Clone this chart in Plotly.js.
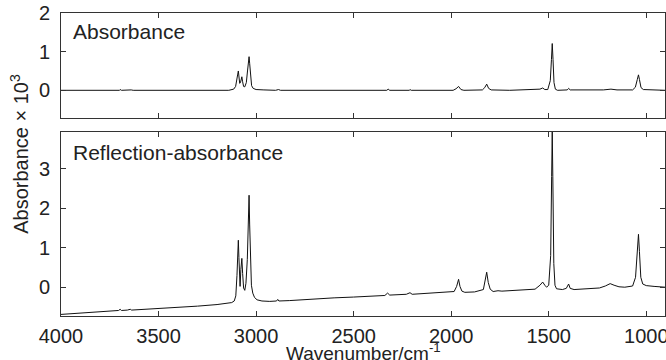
<!DOCTYPE html>
<html>
<head>
<meta charset="utf-8">
<script src="https://cdn.plot.ly/plotly-3.0.1.min.js"></script>
<style>html,body{margin:0;padding:0;background:#fff;}#chart{width:666px;height:360px;}</style>
</head>
<body>
<div id="chart"></div>
<script>
// Tick labels
const xTicks = [4000, 3500, 3000, 2500, 2000, 1500, 1000];
const yTicksTop = [0, 1, 2];
const yTicksBottom = [0, 1, 2, 3];

// Top panel: Absorbance (×10^3)
const wnTop = [4000,3700,3697,3690,3640,3630,3140,3115,3105,3098,3094,3091,3088,3084,3080,3076,3073,3069,3064,3058,3050,3044,3039,3036,3033,3029,3023,3015,3000,2960,2900,2885,2875,2330,2323,2315,2215,2211,2205,1990,1975,1962,1950,1935,1840,1828,1818,1808,1795,1700,1545,1531,1520,1505,1492,1486,1482,1478,1473,1466,1455,1405,1398,1390,1300,1220,1181,1150,1070,1056,1046,1040,1035,1027,1015,960,904];
const absTop = [0,0,0.02,0,0.01,0,0,0.03,0.10,0.25,0.42,0.50,0.35,0.18,0.20,0.32,0.35,0.22,0.10,0.09,0.20,0.50,0.80,0.87,0.70,0.35,0.12,0.05,0.02,0.01,0.00,0.02,0.00,0.00,0.03,0.00,0.00,0.02,0.00,0.00,0.04,0.10,0.02,0.00,0.01,0.07,0.16,0.05,0.01,0.00,0.03,0.06,0.02,0.02,0.25,0.80,1.21,0.80,0.20,0.03,0.00,0.01,0.05,0.01,0.00,0.01,0.03,0.01,0.01,0.08,0.28,0.40,0.28,0.07,0.02,0.01,0.00];

// Bottom panel: Reflection-absorbance (×10^3)
const wnBot = [4000,3900,3800,3720,3705,3697,3690,3660,3645,3638,3600,3500,3400,3300,3200,3150,3125,3112,3104,3098,3094,3091,3088,3085,3082,3078,3073,3069,3064,3058,3052,3045,3040,3036,3033,3029,3024,3017,3008,2995,2970,2930,2895,2889,2883,2830,2800,2700,2650,2645,2640,2600,2500,2400,2340,2326,2315,2230,2211,2200,2100,2020,1985,1972,1962,1955,1945,1930,1880,1835,1826,1818,1810,1800,1785,1760,1740,1700,1650,1631,1610,1570,1545,1531,1520,1511,1500,1490,1485,1482,1479,1474,1468,1460,1430,1410,1398,1390,1370,1320,1280,1240,1210,1185,1165,1140,1110,1070,1055,1046,1040,1035,1028,1018,1000,960,930,904];
const raBot = [-0.69,-0.66,-0.63,-0.60,-0.59,-0.56,-0.59,-0.58,-0.56,-0.58,-0.57,-0.55,-0.52,-0.48,-0.44,-0.41,-0.39,-0.35,-0.22,0.30,0.90,1.19,0.75,0.15,0.02,0.45,0.73,0.35,-0.02,-0.08,0.10,0.70,1.70,2.33,1.60,0.55,0.05,-0.15,-0.26,-0.32,-0.35,-0.36,-0.35,-0.31,-0.35,-0.34,-0.33,-0.30,-0.29,-0.28,-0.29,-0.27,-0.25,-0.23,-0.21,-0.15,-0.20,-0.18,-0.14,-0.18,-0.15,-0.13,-0.11,0.02,0.20,0.02,-0.10,-0.13,-0.12,-0.06,0.15,0.38,0.12,-0.05,-0.11,-0.09,-0.10,-0.09,-0.08,-0.06,-0.07,-0.05,0.05,0.13,0.05,0.00,0.05,0.80,2.80,3.95,2.80,0.60,0.05,-0.04,-0.06,-0.03,0.08,-0.03,-0.06,-0.05,-0.04,-0.02,0.03,0.09,0.05,0.01,0.00,0.03,0.25,0.90,1.34,0.90,0.25,0.08,0.04,0.02,0.01,0.00];

const lineStyle = {color: '#111111', width: 1};
const traces = [
  {x: wnTop, y: absTop, xaxis: 'x2', yaxis: 'y2', mode: 'lines', line: lineStyle, hoverinfo: 'skip'},
  {x: wnBot, y: raBot, xaxis: 'x', yaxis: 'y', mode: 'lines', line: lineStyle, hoverinfo: 'skip'}
];

const fontFam = 'Liberation Sans, Arial, Helvetica, sans-serif';
const axCommon = {
  showline: true, linecolor: '#333', linewidth: 1, mirror: 'ticks',
  ticks: 'inside', ticklen: 5, tickwidth: 1, tickcolor: '#333',
  showgrid: false, zeroline: false, ticklabeloverflow: 'allow',
  tickfont: {family: fontFam, size: 20, color: '#222'}
};

const layout = {
  width: 666, height: 360,
  margin: {l: 61, r: 1, t: 13, b: 44},
  paper_bgcolor: '#fff', plot_bgcolor: '#fff',
  showlegend: false,
  font: {family: fontFam, color: '#222'},
  xaxis: Object.assign({}, axCommon, {
    anchor: 'y', domain: [0, 1], range: [4000, 904], tickvals: xTicks, ticklabelstandoff: 2
  }),
  xaxis2: Object.assign({}, axCommon, {
    anchor: 'y2', domain: [0, 1], range: [4000, 904], tickvals: xTicks, showticklabels: false, matches: 'x'
  }),
  yaxis: Object.assign({}, axCommon, {
    anchor: 'x', domain: [0, 0.607], range: [-0.73, 3.93], tickvals: yTicksBottom, ticklabelstandoff: 6
  }),
  yaxis2: Object.assign({}, axCommon, {
    anchor: 'x2', domain: [0.653, 1], range: [-0.72, 2.0], tickvals: yTicksTop, ticklabelstandoff: 6
  }),
  annotations: [
    {text: 'Wavenumber/cm<sup>-1</sup>', xref: 'paper', yref: 'paper',
     x: 0.5, y: -0.118, xanchor: 'center', yanchor: 'middle', showarrow: false,
     font: {family: fontFam, size: 19, color: '#222'}},
    {text: 'Absorbance × 10<sup>3</sup>', textangle: -90, xref: 'paper', yref: 'paper',
     x: -0.068, y: 0.535, xanchor: 'center', yanchor: 'middle', showarrow: false,
     font: {family: fontFam, size: 20, color: '#222'}},
    {text: 'Absorbance', xref: 'paper', yref: 'paper', x: 0.016, y: 0.94,
     xanchor: 'left', yanchor: 'middle', showarrow: false,
     font: {family: fontFam, size: 21, color: '#222'}},
    {text: 'Reflection-absorbance', xref: 'paper', yref: 'paper', x: 0.016, y: 0.538,
     xanchor: 'left', yanchor: 'middle', showarrow: false,
     font: {family: fontFam, size: 21, color: '#222'}}
  ]
};

Plotly.newPlot('chart', traces, layout, {staticPlot: true, displayModeBar: false});
</script>
</body>
</html>
